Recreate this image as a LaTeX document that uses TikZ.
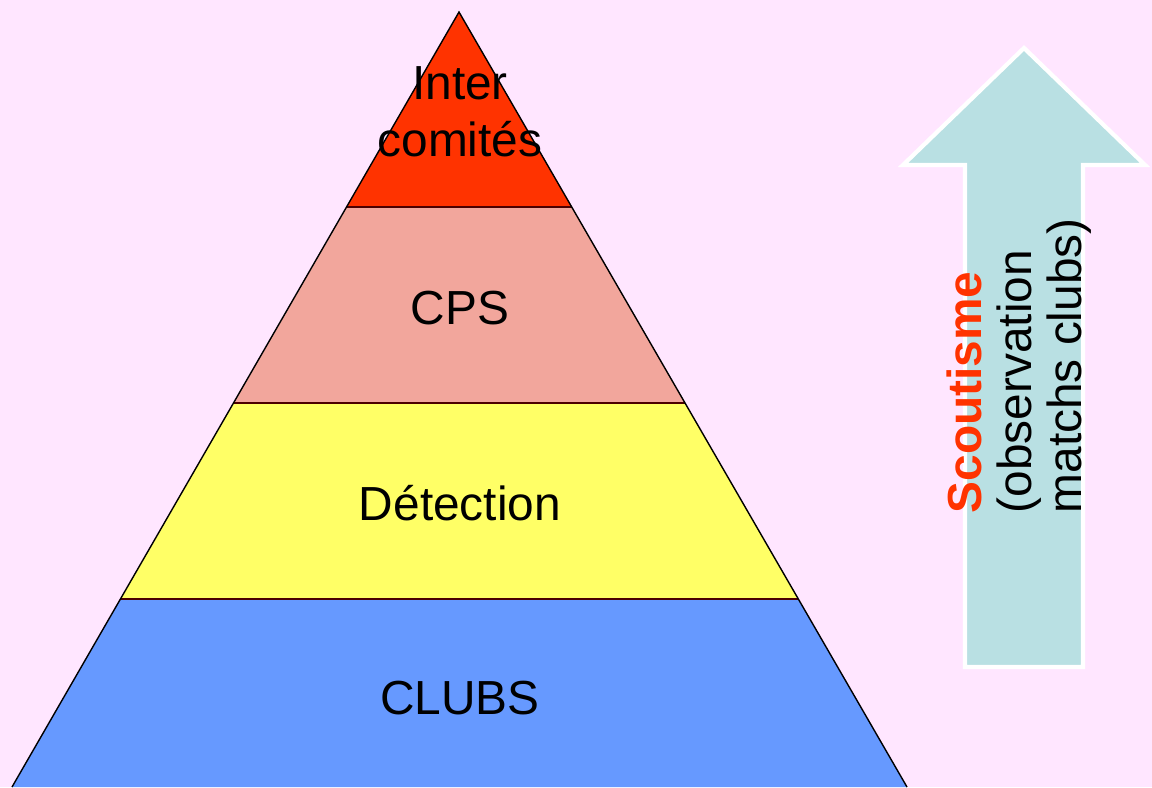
\documentclass[tikz,border=0pt]{standalone}
\usepackage{fontspec}
\setmainfont{Liberation Sans}
\usetikzlibrary{positioning}

\definecolor{bgpink}{HTML}{FFE6FF}
\definecolor{topred}{HTML}{FF3300}
\definecolor{cpspink}{HTML}{F2A69C}
\definecolor{detyellow}{HTML}{FFFF66}
\definecolor{clubblue}{HTML}{6699FF}
\definecolor{arrowcyan}{HTML}{B9E0E3}

\tikzset{
	layer/.style={draw=black!70!red, line width=0.4pt},
	layertext/.style={font=\fontsize{13.6}{16.2}\selectfont, align=center},
	sidetext/.style={font=\fontsize{13.6}{14.2}\selectfont, align=left, rotate=90, anchor=north west, inner sep=0pt}
}

\begin{document}
\begin{tikzpicture}[x=0.01cm, y=-0.01cm]
	\fill[bgpink] (0,0) rectangle (1152,787);
	\useasboundingbox (0,0) rectangle (1152,787);
	% layers, from top to bottom
	\fill[topred] (459,12) -- (572,207) -- (347,207) -- cycle;
	\fill[cpspink] (347,207) -- (572,207) -- (685,403) -- (234,403) -- cycle;
	\fill[detyellow] (234,403) -- (685,403) -- (798,599) -- (121,599) -- cycle;
	\fill[clubblue] (121,599) -- (798,599) -- (907,787) -- (12,787) -- cycle;
	\draw[layer] (347,207) -- (572,207);
	\draw[layer] (234,403) -- (685,403);
	\draw[layer] (121,599) -- (798,599);
	\draw[black, line width=0.4pt] (12,787) -- (459,12) -- (907,787);
	\node[layertext] (inter) at (460,112) {Inter\\comités};
	\node[layertext] (cps) at (460,308) {CPS};
	\node[layertext] (detection) at (460,503) {Détection};
	\node[layertext] (clubs) at (460,698) {CLUBS};
	% arrow on the right
	\fill[arrowcyan, draw=white, line width=1.2pt, line join=miter]
		(965,667) -- (965,165) -- (903,165) -- (1024,48) -- (1145,165)
		-- (1083,165) -- (1083,667) -- cycle;
	\node[sidetext] (scout) at (946,514)
		{{\bfseries\color{topred}Scoutisme}\\(observation\\matchs clubs)};
\end{tikzpicture}
\end{document}
